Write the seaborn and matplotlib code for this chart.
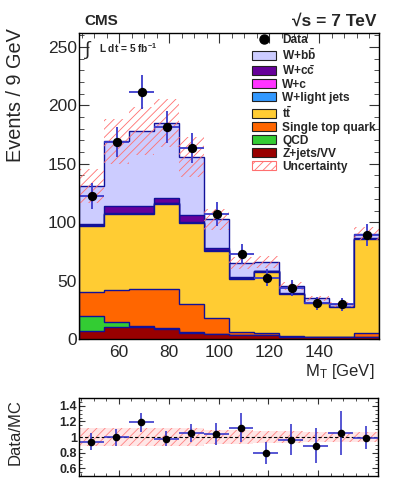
import numpy as np
import pandas as pd
import matplotlib
matplotlib.use("Agg")
import matplotlib.pyplot as plt
import seaborn as sns
from matplotlib.patches import Patch
from matplotlib.lines import Line2D
from matplotlib.ticker import MultipleLocator, FuncFormatter

# ---------------- data ----------------
bin_low = [44, 54, 64, 74, 84, 94, 104, 114, 124, 134, 144, 154]
bin_width = 10

z_vv      = [7.0, 10.0, 10.0, 8.5, 5.5, 4.3, 3.2, 3.0, 2.0, 1.5, 1.3, 2.0]
qcd       = [13.0, 4.2, 0.8, 0.6, 0.3, 0.2, 0.1, 0.1, 0.1, 0.1, 0.1, 0.1]
single_t  = [20.4, 27.6, 31.9, 33.6, 23.8, 13.2, 2.9, 1.7, 0.3, 0.2, 0.2, 2.8]
ttbar     = [56.0, 64.9, 64.0, 73.1, 69.4, 57.7, 45.6, 52.6, 36.0, 28.6, 25.4, 80.4]
w_light   = [1.0, 0.5, 0.6, 0.6, 0.6, 0.4, 0.4, 0.4, 0.3, 0.2, 0.2, 0.3]
w_c       = [0.3, 0.3, 0.3, 0.3, 0.3, 0.2, 0.2, 0.2, 0.2, 0.1, 0.1, 0.2]
w_cc      = [0.4, 6.8, 6.2, 3.6, 5.9, 2.2, 0.5, 0.3, 0.3, 0.2, 0.2, 0.5]
w_bb      = [32.7, 54.9, 64.2, 64.6, 50.3, 24.2, 12.2, 7.7, 6.3, 3.8, 2.1, 3.9]

unc_rel   = [0.11, 0.115, 0.117, 0.113, 0.11, 0.09, 0.085, 0.08, 0.075, 0.07, 0.07, 0.065]

data      = [122.6, 168.7, 211.3, 181.5, 163.5, 106.7, 72.5, 52.6, 43.8, 30.4, 29.9, 88.7]
data_err  = [11.0, 13.0, 14.5, 13.5, 12.8, 10.3, 8.5, 7.3, 6.6, 5.5, 5.5, 9.4]

ratio     = [0.94, 0.995, 1.19, 0.98, 1.05, 1.04, 1.12, 0.80, 0.965, 0.89, 1.05, 0.99]
ratio_err = [0.11, 0.11, 0.12, 0.10, 0.12, 0.14, 0.19, 0.14, 0.20, 0.22, 0.28, 0.15]

x_ticks = [60, 80, 100, 120, 140]

components = [
    ("Z+jets/VV", z_vv, "#990000"),
    ("QCD", qcd, "#33cc33"),
    ("Single top quark", single_t, "#ff6600"),
    (r"t$\mathbf{\bar{t}}$", ttbar, "#ffcc33"),
    ("W+light jets", w_light, "#3399ff"),
    ("W+c", w_c, "#ff33ff"),
    (r"W+c$\mathbf{\bar{c}}$", w_cc, "#660099"),
    (r"W+b$\mathbf{\bar{b}}$", w_bb, "#ccccff"),
]

# ---------------- style ----------------
sns.set_style("ticks")
plt.rcParams["font.family"] = ["Liberation Sans", "DejaVu Sans"]
plt.rcParams["mathtext.fontset"] = "custom"
plt.rcParams["mathtext.rm"] = "Liberation Sans"
plt.rcParams["mathtext.bf"] = "Liberation Sans:bold"
plt.rcParams["mathtext.it"] = "Liberation Sans:italic"
plt.rcParams["hatch.linewidth"] = 0.6

W, H = 399, 486
fig = plt.figure(figsize=(W / 100, H / 100), dpi=100)
ax = fig.add_axes([79 / W, 1 - 339 / H, 300 / W, 306 / H])
rax = fig.add_axes([79 / W, 1 - 476 / H, 299 / W, 78 / H])

low = np.array(bin_low, dtype=float)
edges = np.append(low, low[-1] + bin_width)
centers = low + bin_width / 2

# cumulative stack, drawn from the top down
cum = np.cumsum(np.array([c[1] for c in components]), axis=0)
navy = "#111199"
nc = len(components)
for i in range(nc - 1, -1, -1):
    name, vals, col = components[i]
    z = 2 + 2 * (nc - i)
    ax.stairs(cum[i], edges, fill=True, color=col, zorder=z)
    ax.stairs(cum[i], edges, fill=False, color=navy, linewidth=1.0, zorder=z + 1)

total = cum[-1]
unc = total * np.array(unc_rel)
ax.bar(centers, 2 * unc, bottom=total - unc, width=bin_width, fill=False,
       hatch="////", edgecolor="#ff7070", linewidth=0, zorder=30)

# data points
ax.errorbar(centers, data, yerr=data_err, xerr=bin_width / 2, fmt="none",
            ecolor="#3a3acc", elinewidth=1.3, capsize=0, zorder=31)
sns.scatterplot(x=centers, y=data, color="black", s=45, edgecolor="black",
                linewidth=0, ax=ax, zorder=32)

ax.set_xlim(edges[0], edges[-1])
ax.set_ylim(0, 262)
ax.xaxis.set_major_locator(plt.FixedLocator(x_ticks))
ax.xaxis.set_minor_locator(MultipleLocator(5))
ax.yaxis.set_major_locator(MultipleLocator(50))
ax.yaxis.set_minor_locator(MultipleLocator(10))
for a in (ax, rax):
    a.tick_params(which="both", direction="in", top=True, right=True, color="#333333")
    a.tick_params(which="major", length=7, width=0.8)
    a.tick_params(which="minor", length=3.5, width=0.6)
    for s in a.spines.values():
        s.set_visible(True)
        s.set_linewidth(1.0)
        s.set_color("black")
        s.set_zorder(40)
ax.tick_params(axis="y", labelsize=12.5, pad=1.5)
ax.tick_params(axis="x", labelsize=12.5, pad=4)

ax.set_ylabel("Events / 9 GeV", fontsize=14.3, loc="top")
ax.yaxis.set_label_coords(-0.18, 1.016)
ax.set_xlabel(r"M$_\mathregular{T}$ [GeV]", fontsize=12, loc="right")
ax.xaxis.set_label_coords(0.985, -0.075)

# legend
handles = [Line2D([], [], marker="o", color="black", linestyle="none", markersize=6.5)]
labels = ["Data"]
for name, vals, col in components[::-1]:
    handles.append(Patch(facecolor=col, edgecolor="#222222", linewidth=0.8))
    labels.append(name)
handles.append(Patch(facecolor="white", edgecolor="#ff7070", hatch="////", linewidth=0.8))
labels.append("Uncertainty")
leg = ax.legend(handles, labels, loc="upper left", bbox_to_anchor=(252 / W, 1 - 34 / H),
                bbox_transform=fig.transFigure, frameon=False, borderpad=0,
                borderaxespad=0, handlelength=2.05, handleheight=0.8, handletextpad=0.5,
                labelspacing=0.09, prop={"weight": "bold", "size": 8.6})
leg.set_zorder(50)

# texts
fig.text(84 / W, 1 - 25 / H, "CMS", fontsize=11, fontweight="bold", ha="left", va="baseline")
fig.text(376 / W, 1 - 26 / H, "\u221as = 7 TeV", fontsize=12.5, fontweight="bold",
         ha="right", va="baseline")
fig.text(84 / W, 1 - 50 / H, r"$\int$", fontsize=14, ha="left", va="center")
fig.text(99 / W, 1 - 48 / H, r"L dt = 5 fb$^{\mathbf{-1}}$", fontsize=7.3, fontweight="bold",
         ha="left", va="center")

# ratio panel
rax.bar(centers, 2 * np.array(unc_rel), bottom=1 - np.array(unc_rel), width=bin_width,
        color="#ffe6e6", hatch="////", edgecolor="#ff8080", linewidth=0, zorder=1)
rax.axhline(1.0, color="black", linestyle=(0, (3, 2)), linewidth=0.8, zorder=2)
rax.errorbar(centers, ratio, yerr=ratio_err, xerr=bin_width / 2, fmt="none",
             ecolor="#3a3acc", elinewidth=1.2, capsize=0, zorder=3)
sns.scatterplot(x=centers, y=ratio, color="black", s=30, linewidth=0, ax=rax, zorder=4)
rax.set_xlim(edges[0], edges[-1])
rax.set_ylim(0.5, 1.5)
rax.yaxis.set_major_locator(plt.FixedLocator([0.6, 0.8, 1.0, 1.2, 1.4]))
rax.yaxis.set_minor_locator(MultipleLocator(0.05))
rax.yaxis.set_major_formatter(FuncFormatter(lambda v, p: f"{v:g}"))
rax.xaxis.set_major_locator(plt.FixedLocator(x_ticks))
rax.xaxis.set_minor_locator(MultipleLocator(5))
rax.tick_params(axis="x", labelbottom=False)
rax.tick_params(axis="y", labelsize=9, pad=1.5)
for lab in rax.get_yticklabels():
    lab.set_fontweight("bold")
rax.tick_params(which="major", length=4)
rax.tick_params(which="minor", length=2)
rax.set_ylabel("Data/MC", fontsize=12)
rax.yaxis.set_label_coords(-0.187, 0.56)

fig.savefig("out.png", dpi=100)
